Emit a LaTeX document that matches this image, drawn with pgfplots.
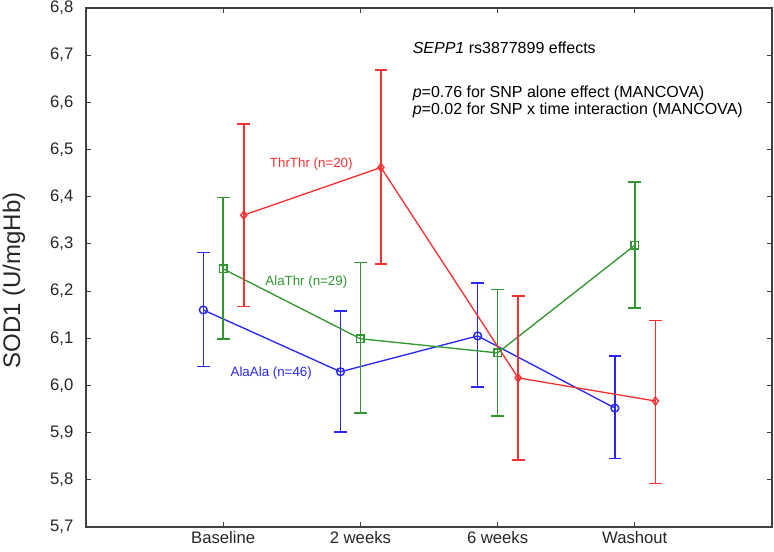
\documentclass[border=0pt]{standalone}
\usepackage{pgfplots}
\pgfplotsset{compat=1.18}
\usepackage{fontspec}
\setmainfont{Liberation Sans}
\definecolor{cblue}{RGB}{40,40,240}
\definecolor{cgreen}{RGB}{50,150,50}
\definecolor{cred}{RGB}{245,50,50}
\definecolor{caxis}{RGB}{64,64,64}
\begin{document}
\begin{tikzpicture}
\useasboundingbox (-64.5pt,-18.75pt) rectangle (516pt,395.25pt);
\begin{axis}[
  scale only axis,
  width=514.5pt, height=389.25pt,
  xmin=0, xmax=5, ymin=5.7, ymax=6.8,
  xtick={1,2,3,4},
  xticklabels={Baseline,2 weeks,6 weeks,Washout},
  ytick={5.7,5.8,5.9,6.0,6.1,6.2,6.3,6.4,6.5,6.6,6.7,6.8},
  /pgf/number format/.cd, use comma, fixed, fixed zerofill, precision=1, assume math mode=true,
  /pgfplots/.cd,
  tick align=inside,
  major tick length=4pt,
  axis line style={caxis, line width=1pt},
  tick style={caxis, line width=0.8pt},
  ticklabel style={font=\fontsize{12.5}{14}\selectfont, text=black!85},
  yticklabel style={xshift=-6pt},
  ylabel={SOD1 (U/mgHb)},
  ylabel style={font=\fontsize{18}{20}\selectfont, text=black!85, at={(axis description cs:-0.105,0.475)}, anchor=center, rotate=0},
  error bars/y dir=both,
  error bars/y explicit,
  error bars/error mark options={rotate=90, mark size=4.8pt, line width=1.15pt},
  every axis plot/.append style={line width=1pt},
  clip=false,
]
\addplot+[cblue, mark=o, mark size=2.9pt, mark options={solid, cblue, line width=1.1pt},
  error bars/error bar style={cblue, line width=1.15pt}]
  table[x=x, y=y, y error plus=ep, y error minus=em] {
  x y ep em
  0.855 6.160 0.122 0.120
  1.855 6.029 0.129 0.128
  2.855 6.105 0.112 0.108
  3.855 5.952 0.110 0.107
};
\addplot+[cgreen, mark=square, mark size=2.8pt, mark options={solid, cgreen, line width=1.1pt},
  error bars/error bar style={cgreen, line width=1.15pt}]
  table[x=x, y=y, y error plus=ep, y error minus=em] {
  x y ep em
  1 6.247 0.151 0.149
  2 6.099 0.162 0.157
  3 6.069 0.134 0.134
  4 6.297 0.134 0.133
};
\addplot+[cred, mark=diamond, mark size=3pt, mark options={solid, cred, line width=1.1pt},
  error bars/error bar style={cred, line width=1.15pt}]
  table[x=x, y=y, y error plus=ep, y error minus=em] {
  x y ep em
  1.15 6.361 0.193 0.194
  2.15 6.462 0.207 0.205
  3.15 6.016 0.174 0.174
  4.15 5.967 0.171 0.175
};
\node[font=\fontsize{10}{12}\selectfont, text=cred] at (axis cs:1.642,6.469) {ThrThr (n=20)};
\node[font=\fontsize{10}{12}\selectfont, text=cgreen] at (axis cs:1.606,6.220) {AlaThr (n=29)};
\node[font=\fontsize{10}{12}\selectfont, text=cblue] at (axis cs:1.350,6.027) {AlaAla (n=46)};
\node[font=\fontsize{12}{14}\selectfont, anchor=west, inner sep=0pt] at (axis cs:2.38,6.716) {\textit{SEPP1} rs3877899 effects};
\node[font=\fontsize{12}{13}\selectfont, anchor=north west, inner sep=0pt, align=left] at (axis cs:2.38,6.636) {\textit{p}=0.76 for SNP alone effect (MANCOVA)\\\textit{p}=0.02 for SNP x time interaction (MANCOVA)};
\end{axis}
\end{tikzpicture}
\end{document}
